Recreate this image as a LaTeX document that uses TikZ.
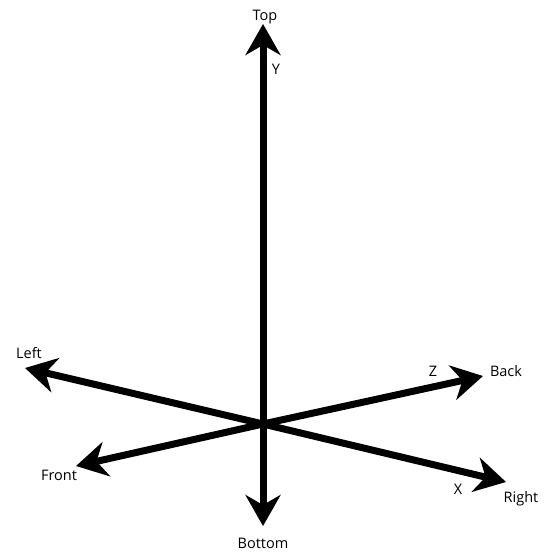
\documentclass[tikz,border=0pt]{standalone}
\usepackage{fontspec}
\setmainfont{Open Sans}
\usetikzlibrary{arrows.meta}
\begin{document}
\begin{tikzpicture}[x=1pt,y=-1pt,
  axisline/.style={line width=7pt,-{Stealth[length=31pt,width=35pt,inset=10pt]}},
  lbl/.style={font=\fontsize{14.5}{16}\selectfont,inner sep=0pt}]
\useasboundingbox (0,0) rectangle (547,554);
\coordinate (O) at (263,424);
\coordinate (top) at (263,24);
\coordinate (bottom) at (263,526);
\coordinate (left) at (25,368);
\coordinate (right) at (506,482);
\coordinate (back) at (483,376);
\coordinate (front) at (76,466);
\draw[axisline] (O) -- (top);
\draw[axisline] (O) -- (bottom);
\draw[axisline] (O) -- (left);
\draw[axisline] (O) -- (right);
\draw[axisline] (O) -- (back);
\draw[axisline] (O) -- (front);
\node[lbl] (ltop) at (265,17) {Top};
\node[lbl] (ly) at (276,69) {Y};
\node[lbl] (lleft) at (29,353) {Left};
\node[lbl] (lz) at (433,371) {Z};
\node[lbl] (lback) at (506,371) {Back};
\node[lbl] (lfront) at (59,475) {Front};
\node[lbl] (lx) at (458,489) {X};
\node[lbl] (lright) at (521,499) {Right};
\node[lbl] (lbottom) at (263,543) {Bottom};
\end{tikzpicture}
\end{document}
